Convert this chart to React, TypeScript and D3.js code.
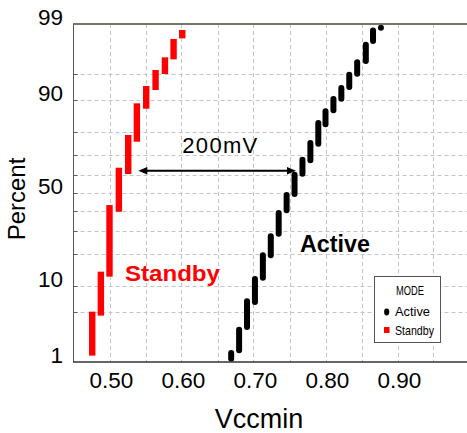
import React from 'react';
import * as d3 from 'd3';

// ---- data ----
const activeVcc = [0.669, 0.680, 0.691, 0.702, 0.713, 0.724, 0.735, 0.746, 0.757, 0.768, 0.779, 0.790, 0.800, 0.811, 0.822, 0.833, 0.844, 0.856, 0.866, 0.877];
const activeLow = [1.13, 1.52, 3.26, 6.68, 12.18, 19.56, 28.77, 40.6, 49.45, 60.5, 67.4, 75.1, 82.78, 87.24, 90.28, 92.77, 94.97, 96.54, 98.18, 98.85];
const activeHigh = [1.38, 3.0, 6.81, 11.83, 19.56, 27.56, 39.2, 48.9, 59.9, 67.7, 75.4, 83.2, 86.96, 90.21, 92.58, 94.82, 96.4, 97.94, 98.73, 98.85];

const standbyVcc = [0.476, 0.488, 0.500, 0.513, 0.526, 0.538, 0.551, 0.564, 0.577, 0.589, 0.601];
const standbyLow = [1.40, 4.98, 13.34, 41.45, 61.9, 77.25, 88.52, 92.77, 95.34, 97.0, 98.50];
const standbyHigh = [4.70, 13.05, 41.8, 62.05, 77.55, 88.36, 92.38, 95.07, 96.61, 98.12, 98.62];

const xTickLabels = ['0.50', '0.60', '0.70', '0.80', '0.90'];
const xTickValues = [0.5, 0.6, 0.7, 0.8, 0.9];
const xGridValues = [0.5, 0.55, 0.6, 0.65, 0.7, 0.75, 0.8, 0.85, 0.9, 0.95];
const yTickValues = [1, 10, 50, 90, 99];
const yGridValues = [5, 10, 20, 30, 40, 50, 60, 70, 80, 90, 95];

const arrowFrom = 0.540;
const arrowTo = 0.759;
const arrowPct = 62;
const arrowLabel = '200mV';
const standbyLabel = { text: 'Standby', v: 0.5215, p: 11.3 };
const activeLabel = { text: 'Active', v: 0.7646, p: 20.96 };

const legendTitle = 'MODE';
const legendItems = ['Active', 'Standby'];

// inverse normal CDF (Acklam)
function probit(p: number): number {
  const a = [-3.969683028665376e1, 2.209460984245205e2, -2.759285104469687e2, 1.38357751867269e2, -3.066479806614716e1, 2.506628277459239];
  const b = [-5.447609879822406e1, 1.615858368580409e2, -1.556989798598866e2, 6.680131188771972e1, -1.328068155288572e1];
  const c = [-7.784894002430293e-3, -3.223964580411365e-1, -2.400758277161838, -2.549732539343734, 4.374664141464968, 2.938163982698783];
  const d = [7.784695709041462e-3, 3.224671290700398e-1, 2.445134137142996, 3.754408661907416];
  const pl = 0.02425;
  if (p < pl) {
    const q = Math.sqrt(-2 * Math.log(p));
    return (((((c[0] * q + c[1]) * q + c[2]) * q + c[3]) * q + c[4]) * q + c[5]) / ((((d[0] * q + d[1]) * q + d[2]) * q + d[3]) * q + 1);
  }
  if (p > 1 - pl) {
    const q = Math.sqrt(-2 * Math.log(1 - p));
    return -(((((c[0] * q + c[1]) * q + c[2]) * q + c[3]) * q + c[4]) * q + c[5]) / ((((d[0] * q + d[1]) * q + d[2]) * q + d[3]) * q + 1);
  }
  const q = p - 0.5;
  const r = q * q;
  return (((((a[0] * r + a[1]) * r + a[2]) * r + a[3]) * r + a[4]) * r + a[5]) * q / (((((b[0] * r + b[1]) * r + b[2]) * r + b[3]) * r + b[4]) * r + 1);
}

const W = 467;
const H = 433;
const left = 73.5;
const right = 469.5;
const top = 24;
const bottom = 362;

const FONT = "'Liberation Sans', Arial, sans-serif";

export default function App() {
  const x = d3.scaleLinear().domain([0.45, 1.0]).range([left, right]);
  const zScale = d3.scaleLinear().domain([probit(0.01), probit(0.99)]).range([bottom, top]);
  const y = (pct: number) => zScale(probit(pct / 100));

  const half = 3;
  const active = activeVcc.map((v, i) => ({ v, lo: activeLow[i], hi: activeHigh[i] }));
  const standby = standbyVcc.map((v, i) => ({ v, lo: standbyLow[i], hi: standbyHigh[i] }));

  const ay = y(arrowPct);
  const ax1 = x(arrowFrom);
  const ax2 = x(arrowTo);

  return (
    <svg width={W} height={H} style={{ position: 'absolute', left: 0, top: 0, background: '#fff' }} fontFamily={FONT}>
      <rect x={0} y={0} width={W} height={H} fill="#fff" />
      <defs>
        <clipPath id="plotClip">
          <rect x={left} y={top - 4} width={right - left} height={bottom - top + 4} />
        </clipPath>
      </defs>
      {/* grid */}
      <g stroke="#c4c4c4" strokeWidth={1} strokeDasharray="4,3">
        {xGridValues.map((v) => (
          <line key={'gx' + v} x1={Math.round(x(v)) + 0.5} x2={Math.round(x(v)) + 0.5} y1={top} y2={bottom} />
        ))}
        {yGridValues.map((p) => (
          <line key={'gy' + p} x1={left} x2={W} y1={Math.round(y(p)) + 0.5} y2={Math.round(y(p)) + 0.5} />
        ))}
      </g>
      {/* marks */}
      <g clipPath="url(#plotClip)">
        {standby.map((d, i) => (
          <rect key={'s' + i} x={x(d.v) - 3.2} width={6.4} y={y(d.hi) - half} height={y(d.lo) - y(d.hi) + 2 * half} fill="#ff0000" />
        ))}
        {active.map((d, i) => (
          <rect key={'a' + i} x={x(d.v) - 3} width={6} y={y(d.hi) - half} height={y(d.lo) - y(d.hi) + 2 * half} rx={3} ry={3} fill="#000" />
        ))}
      </g>
      {/* axes */}
      <line x1={left - 0.5} x2={W} y1={top} y2={top} stroke="#75756a" strokeWidth={2} />
      <line x1={left} x2={left} y1={top} y2={bottom} stroke="#5a5650" strokeWidth={1} />
      <line x1={left - 0.5} x2={W} y1={bottom} y2={bottom} stroke="#333" strokeWidth={1.5} />
      <g stroke="#5a5650" strokeWidth={1}>
        {yGridValues.map((p) => (
          <line key={'tk' + p} x1={left} x2={left + 4} y1={Math.round(y(p)) + 0.5} y2={Math.round(y(p)) + 0.5} />
        ))}
      </g>
      {/* y tick labels */}
      <g fontSize={22.5} textAnchor="end" fill="#000">
        {yTickValues.map((p) => (
          <text key={'yl' + p} x={63} y={y(p) + 1}>{p}</text>
        ))}
      </g>
      {/* x tick labels */}
      <g fontSize={22.5} textAnchor="middle" fill="#000">
        {xTickValues.map((v, i) => (
          <text key={'xl' + v} x={x(v) + 2} y={388}>{xTickLabels[i]}</text>
        ))}
      </g>
      {/* axis titles */}
      <text transform="translate(25,199) rotate(-90)" textAnchor="middle" fontSize={24}>Percent</text>
      <text x={259} y={428} textAnchor="middle" fontSize={27}>Vccmin</text>
      {/* arrow annotation */}
      <line x1={ax1 + 6} x2={ax2 - 6} y1={ay} y2={ay} stroke="#000" strokeWidth={2} />
      <path d={`M${ax1},${ay} L${ax1 + 9},${ay - 3.8} L${ax1 + 9},${ay + 3.8} Z`} fill="#000" />
      <path d={`M${ax2},${ay} L${ax2 - 9},${ay - 3.8} L${ax2 - 9},${ay + 3.8} Z`} fill="#000" />
      <text x={ax1 + 44} y={ay - 18} fontSize={22} textLength={75} lengthAdjust="spacing">{arrowLabel}</text>
      <text x={x(standbyLabel.v)} y={y(standbyLabel.p)} fontSize={22.5} fontWeight="bold" fill="#ff0000" textLength={95} lengthAdjust="spacingAndGlyphs">{standbyLabel.text}</text>
      <text x={x(activeLabel.v)} y={y(activeLabel.p)} fontSize={23} fontWeight="bold" fill="#000" textLength={70} lengthAdjust="spacingAndGlyphs">{activeLabel.text}</text>
      {/* legend */}
      <g>
        <rect x={374.5} y={276.5} width={66} height={66} fill="#fff" stroke="#555" strokeWidth={1} />
        <text x={396} y={295} fontSize={12.5} textLength={28} lengthAdjust="spacingAndGlyphs">{legendTitle}</text>
        <ellipse cx={386.7} cy={312} rx={2.6} ry={3.4} fill="#000" />
        <text x={395} y={316} fontSize={13} textLength={35} lengthAdjust="spacingAndGlyphs">{legendItems[0]}</text>
        <rect x={384} y={327} width={5.5} height={6} fill="#ff0000" />
        <text x={395} y={335} fontSize={13} textLength={39} lengthAdjust="spacingAndGlyphs">{legendItems[1]}</text>
      </g>
    </svg>
  );
}
